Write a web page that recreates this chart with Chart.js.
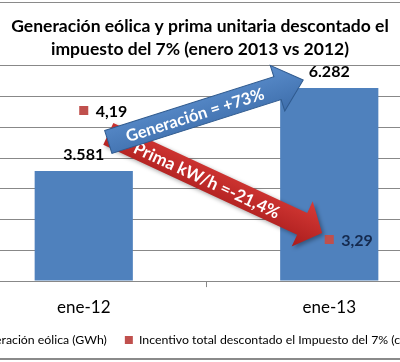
<!DOCTYPE html>
<html>
<head>
<meta charset="utf-8">
<script src="https://cdn.jsdelivr.net/npm/chart.js@4/dist/chart.umd.min.js"></script>
<style>
html, body { margin: 0; padding: 0; background: #fff; overflow: hidden; }
#frame { position: relative; width: 400px; height: 362px; overflow: hidden; }
#wrap { position: absolute; left: -72px; top: 0; width: 544px; height: 362px; }
#edge { position: absolute; left: 0; top: 2px; width: 400px; height: 358px; box-sizing: border-box;
        border-top: 1px solid #8a8a8a; border-bottom: 2px solid #8a8a8a; pointer-events: none; }
</style>
</head>
<body>
<div id="frame">
  <div id="wrap"><canvas id="myChart" width="544" height="362"></canvas></div>
  <div id="edge"></div>
</div>
<script>
const categories = ['ene-12', 'ene-13'];
const generation = [3581, 6282];
const premium = [4.19, 3.29];
const seriesNames = ['Generación eólica (GWh)', 'Incentivo total descontado el Impuesto del 7% (c€/kWh)'];
const titleLines = ['Generación eólica y prima unitaria descontado el', 'impuesto del 7% (enero 2013 vs 2012)'];
const genTicks = [0, 7000, 1000];
const premTicks = [3, 4.5];

// arrow annotations: [category index, value] pairs
const genArrow = { from: [0.1, 4526], to: [0.894, 6544], text: 'Generación = +73%' };
const premArrow = { from: [0.1, 4.026], to: [0.971, 3.335], text: 'Prima kW/h =-21,4%' };

const FONT = 'Lato, "Open Sans", sans-serif';

function fmtThousands(v) { return String(v).replace(/\B(?=(\d{3})+(?!\d))/g, '.'); }
function fmtDec(v) { return v.toFixed(2).replace('.', ','); }

function drawArrow(ctx, x0, y0, x1, y1, o) {
    const len = Math.hypot(x1 - x0, y1 - y0);
    const ang = Math.atan2(y1 - y0, x1 - x0);
    const sw = o.shaft / 2, hw = o.head / 2, hl = o.headLen;
    ctx.save();
    ctx.translate(x0, y0);
    ctx.rotate(ang);
    ctx.beginPath();
    ctx.moveTo(0, -sw);
    ctx.lineTo(len - hl, -sw);
    ctx.lineTo(len - hl, -hw);
    ctx.lineTo(len, 0);
    ctx.lineTo(len - hl, hw);
    ctx.lineTo(len - hl, sw);
    ctx.lineTo(0, sw);
    ctx.closePath();
    const g = ctx.createLinearGradient(0, -hw, 0, hw);
    g.addColorStop(0, o.c1);
    g.addColorStop(1, o.c2);
    ctx.fillStyle = g;
    if (o.shadow) {
        ctx.shadowColor = 'rgba(0,0,0,0.35)';
        ctx.shadowBlur = 4;
        ctx.shadowOffsetX = 2;
        ctx.shadowOffsetY = 2;
    }
    ctx.fill();
    ctx.shadowColor = 'transparent';
    if (o.stroke) {
        ctx.strokeStyle = o.stroke;
        ctx.lineWidth = 1;
        ctx.stroke();
    }
    ctx.fillStyle = '#fff';
    ctx.font = 'bold ' + o.fontSize + 'px ' + FONT;
    ctx.textAlign = 'center';
    ctx.textBaseline = 'middle';
    ctx.fillText(o.text, (len - hl) / 2 + 2, 1);
    ctx.restore();
}

const overlay = {
    id: 'overlay',
    afterDatasetsDraw(chart) {
        const ctx = chart.ctx;
        const { x, y, y2 } = chart.scales;

        drawArrow(ctx,
            x.getPixelForValue(premArrow.from[0]), y2.getPixelForValue(premArrow.from[1]),
            x.getPixelForValue(premArrow.to[0]), y2.getPixelForValue(premArrow.to[1]),
            { shaft: 24, head: 50, headLen: 22, c1: '#d83b37', c2: '#a91c1c', shadow: true,
              fontSize: 17, text: premArrow.text });
        drawArrow(ctx,
            x.getPixelForValue(genArrow.from[0]), y.getPixelForValue(genArrow.from[1]),
            x.getPixelForValue(genArrow.to[0]), y.getPixelForValue(genArrow.to[1]),
            { shaft: 24, head: 48, headLen: 27, c1: '#5a8dcc', c2: '#3e6eab', stroke: '#2f5a8e',
              fontSize: 16.5, text: genArrow.text });

        ctx.save();
        ctx.font = 'bold 16px ' + FONT;
        ctx.textBaseline = 'middle';
        ctx.textAlign = 'center';
        ctx.fillStyle = '#000';
        chart.getDatasetMeta(1).data.forEach((bar, i) => {
            ctx.fillText(fmtThousands(generation[i]), bar.x, bar.y - 16);
        });
        ctx.textAlign = 'left';
        const labelColors = ['#000', '#152a4e'];
        chart.getDatasetMeta(0).data.forEach((pt, i) => {
            ctx.fillStyle = labelColors[i];
            ctx.fillText(fmtDec(premium[i]), pt.x + 12, pt.y + 1);
        });
        ctx.restore();
    }
};

const ctx = document.getElementById('myChart').getContext('2d');
const myChart = new Chart(ctx, {
    data: {
        labels: categories,
        datasets: [{
            type: 'line',
            label: seriesNames[1],
            data: premium,
            yAxisID: 'y2',
            showLine: false,
            pointStyle: 'rect',
            pointRadius: 6.4,
            backgroundColor: '#c0504d',
            borderColor: '#c0504d',
            borderWidth: 0,
            order: 0
        }, {
            type: 'bar',
            label: seriesNames[0],
            data: generation,
            yAxisID: 'y',
            backgroundColor: '#4f81bd',
            categoryPercentage: 0.8,
            barPercentage: 0.5,
            order: 1
        }]
    },
    options: {
        responsive: false,
        animation: false,
        layout: { padding: { bottom: 5.8 } },
        plugins: {
            title: {
                display: true,
                text: titleLines,
                color: '#000',
                font: { family: FONT, size: 17.5, weight: 'bold', lineHeight: 1.314 },
                padding: { top: 15, bottom: 5 }
            },
            legend: {
                position: 'bottom',
                reverse: true,
                labels: {
                    color: '#000',
                    font: { family: FONT, size: 12.3 },
                    boxWidth: 8,
                    boxHeight: 8,
                    padding: 18
                }
            },
            tooltip: { enabled: false }
        },
        scales: {
            x: {
                offset: true,
                grid: { offset: true, drawOnChartArea: false, tickLength: 6, color: '#888' },
                border: { color: '#888' },
                ticks: { color: '#000', font: { family: FONT, size: 17 }, padding: 10 },
                afterFit(scale) { scale.height = 34.8; }
            },
            y: {
                position: 'left',
                min: genTicks[0],
                max: genTicks[1],
                ticks: { display: false, stepSize: genTicks[2] },
                grid: { color: '#888', drawTicks: false },
                border: { display: false },
                afterFit(scale) { scale.width = 33; }
            },
            y2: {
                position: 'right',
                min: premTicks[0],
                max: premTicks[1],
                ticks: { display: false },
                grid: { display: false },
                border: { display: false },
                afterFit(scale) { scale.width = 20; }
            }
        }
    },
    plugins: [overlay]
});
</script>
</body>
</html>
